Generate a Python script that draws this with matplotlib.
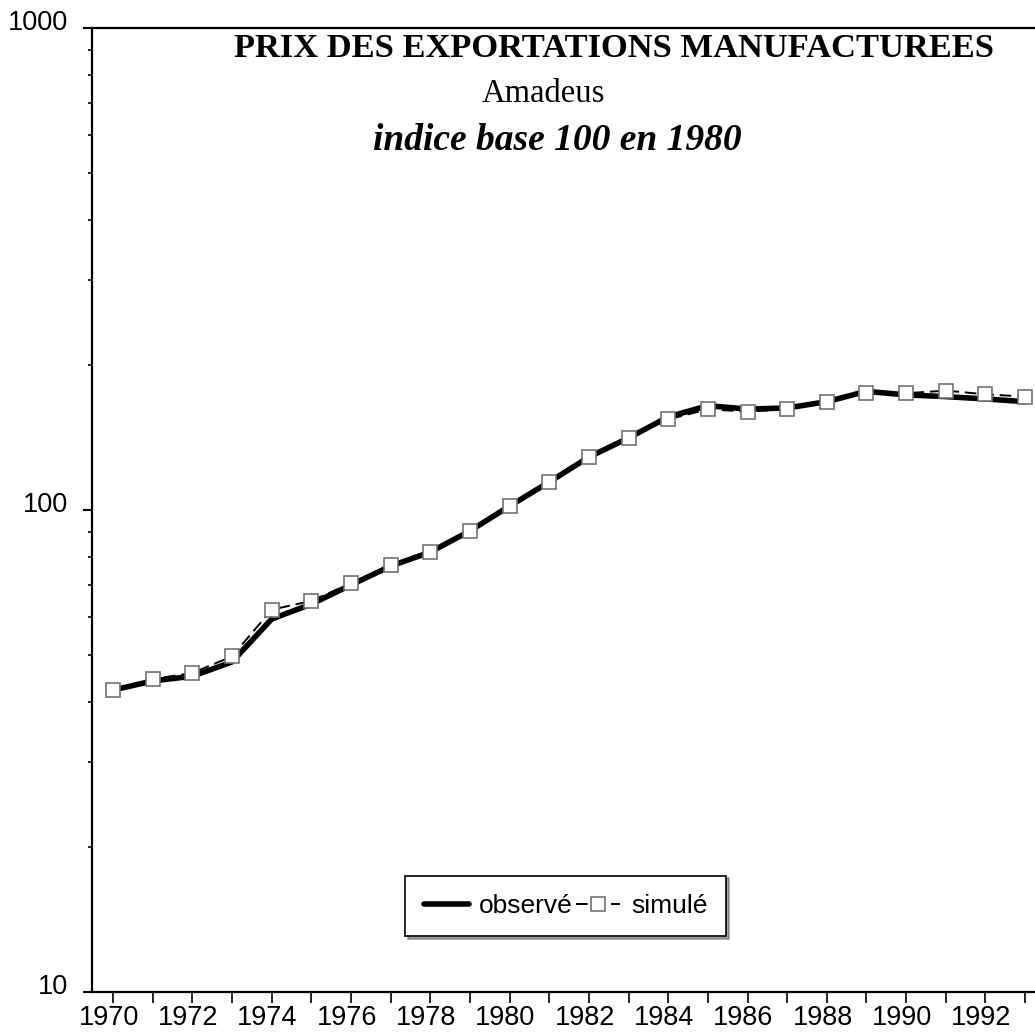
import matplotlib.pyplot as plt
import matplotlib.transforms as mtransforms
from matplotlib.ticker import LogLocator, NullFormatter

# Data (index, base 100 in 1980)
years = list(range(1970, 1994))
observe = [42.3, 44.2, 45.2, 48.4, 59.4, 63.8, 69.9, 76.5, 81.8, 90.5, 101.9, 114.3,
           128.8, 141.1, 156.0, 164.6, 162.0, 162.8, 167.8, 176.3, 173.3, 171.9, 170.0, 167.8]
simule = [42.3, 44.6, 45.9, 49.7, 62.1, 64.8, 70.5, 76.9, 81.9, 90.6, 101.8, 114.3,
          128.6, 141.1, 154.2, 161.8, 160.0, 161.8, 167.8, 175.2, 174.7, 176.9, 173.8, 171.9]
year_labels = [str(y) if y % 2 == 0 else "" for y in years]

sans = ["Liberation Sans", "DejaVu Sans"]
serif = ["Liberation Serif", "DejaVu Serif"]

fig = plt.figure(figsize=(10.35, 10.34), dpi=100)
ax = fig.add_axes([0.0889, 0.0406, 0.9111, 0.9323])

ax.plot(years, observe, color="black", lw=4, solid_capstyle="round", label="observé", zorder=2)
ax.plot(years, simule, color="black", lw=1.4, ls=(0, (6, 3)), marker="s", markersize=9.5,
        markerfacecolor="white", markeredgecolor="0.45", markeredgewidth=1.2,
        label="simulé", zorder=3)

ax.set_yscale("log")
ax.set_ylim(10, 1000)
ax.set_xlim(1969.47, 1993.25)

ax.yaxis.set_minor_locator(LogLocator(base=10, subs=range(2, 10)))
ax.yaxis.set_minor_formatter(NullFormatter())
ax.set_yticks([10, 100, 1000])
ax.set_yticklabels(["10", "100", "1000"], fontfamily=sans, fontsize=19.5)
ax.tick_params(axis="y", which="major", direction="out", length=6.5, width=1.5, pad=11)
ax.tick_params(axis="y", which="minor", direction="out", length=3, width=1.2)

ax.set_xticks(years)
ax.set_xticklabels(year_labels, fontfamily=sans, fontsize=19.5)
ax.tick_params(axis="x", which="major", direction="out", length=8, width=1.2, pad=1)

up = mtransforms.ScaledTranslation(0, 6 / 72, fig.dpi_scale_trans)
for lab in ax.get_yticklabels():
    lab.set_transform(lab.get_transform() + up)
left = mtransforms.ScaledTranslation(-3 / 72, 0, fig.dpi_scale_trans)
for lab in ax.get_xticklabels():
    lab.set_transform(lab.get_transform() + left)

ax.spines["right"].set_visible(False)
for s in ["left", "bottom", "top"]:
    ax.spines[s].set_linewidth(1.6)

fig.text(0.593, 0.953, "PRIX DES EXPORTATIONS MANUFACTUREES", ha="center", va="center",
         fontfamily=serif, fontweight="bold", fontsize=24.8)
fig.text(0.525, 0.909, "Amadeus", ha="center", va="center", fontfamily=serif, fontsize=23.5)
fig.text(0.538, 0.864, "indice base 100 en 1980", ha="center", va="center",
         fontfamily=serif, fontweight="bold", fontstyle="italic", fontsize=27)

leg = ax.legend(loc="center", bbox_to_anchor=(0.5464, 0.1238), bbox_transform=fig.transFigure,
                ncol=2, prop={"family": sans, "size": 19}, frameon=True, fancybox=False,
                shadow=True, edgecolor="black", handlelength=1.7, handletextpad=0.4,
                columnspacing=0.1, borderpad=0.7)
leg.get_frame().set_linewidth(1.2)

fig.savefig("out.png", dpi=100)
